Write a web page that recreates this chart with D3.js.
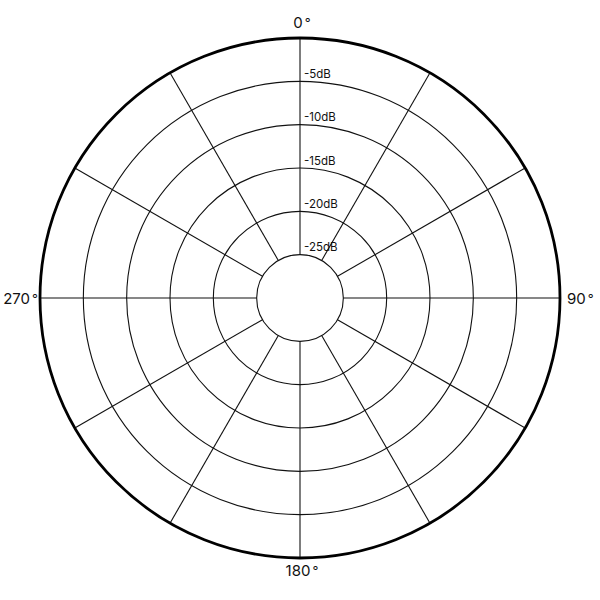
<!DOCTYPE html>
<html>
<head>
<meta charset="utf-8">
<script src="https://cdn.jsdelivr.net/npm/d3@7"></script>
<style>
  html, body { margin: 0; padding: 0; background: #fff; }
  svg { display: block; }
  text { font-family: "Inter", "DejaVu Sans", sans-serif; fill: #111; }
</style>
</head>
<body>
<svg id="chart" width="600" height="600"></svg>
<script>
// Data
const dbLevels = [-30, -25, -20, -15, -10, -5, 0];
const ringLevels = [-25, -20, -15, -10, -5];
const ringLabels = ["-25dB", "-20dB", "-15dB", "-10dB", "-5dB"];
const spokeAngles = [0, 30, 60, 90, 120, 150, 180, 210, 240, 270, 300, 330];
const axisAngles = [0, 90, 180, 270];
const axisLabels = ["0", "90", "180", "270"];
const degreeSign = "°";

const W = 600, H = 600;
const cx = 300, cy = 298, R = 260;

const svg = d3.select("#chart");
const g = svg.append("g").attr("transform", `translate(${cx},${cy})`);

const r = d3.scaleLinear().domain([d3.min(dbLevels), d3.max(dbLevels)]).range([0, R]);
const toRad = d3.scaleLinear().domain([0, 360]).range([0, 2 * Math.PI]);

// rings
g.selectAll("circle.ring")
  .data(ringLevels)
  .join("circle")
  .attr("class", "ring")
  .attr("r", d => r(d))
  .attr("fill", "none")
  .attr("stroke", "#111")
  .attr("stroke-width", 1.1);

// spokes
const rInner = r(ringLevels[0]);
g.selectAll("line.spoke")
  .data(spokeAngles)
  .join("line")
  .attr("class", "spoke")
  .attr("x1", d => rInner * Math.sin(toRad(d)))
  .attr("y1", d => -rInner * Math.cos(toRad(d)))
  .attr("x2", d => R * Math.sin(toRad(d)))
  .attr("y2", d => -R * Math.cos(toRad(d)))
  .attr("stroke", "#111")
  .attr("stroke-width", 1.1);

// outer circle
g.append("circle")
  .attr("r", r(0))
  .attr("fill", "none")
  .attr("stroke", "#000")
  .attr("stroke-width", 2.8);

// ring labels
g.selectAll("text.rl")
  .data(ringLevels)
  .join("text")
  .attr("class", "rl")
  .attr("x", 4)
  .attr("y", d => -r(d) - 3.5)
  .attr("font-size", 11.5)
  .text((d, i) => ringLabels[i]);

// angle labels
const al = g.selectAll("text.al")
  .data(axisAngles)
  .join("text")
  .attr("class", "al")
  .attr("font-size", 15)
  .attr("text-anchor", d => d === 90 ? "start" : d === 270 ? "end" : "middle")
  .attr("x", d => d === 90 ? R + 7 : d === 270 ? -R - 2 : 2)
  .attr("y", d => d === 0 ? -R - 10 : d === 180 ? R + 18 : 6);
al.append("tspan").text((d, i) => axisLabels[i]);
al.append("tspan").attr("dx", 2).attr("font-size", 13).attr("dy", 0).text(degreeSign);
</script>
</body>
</html>
